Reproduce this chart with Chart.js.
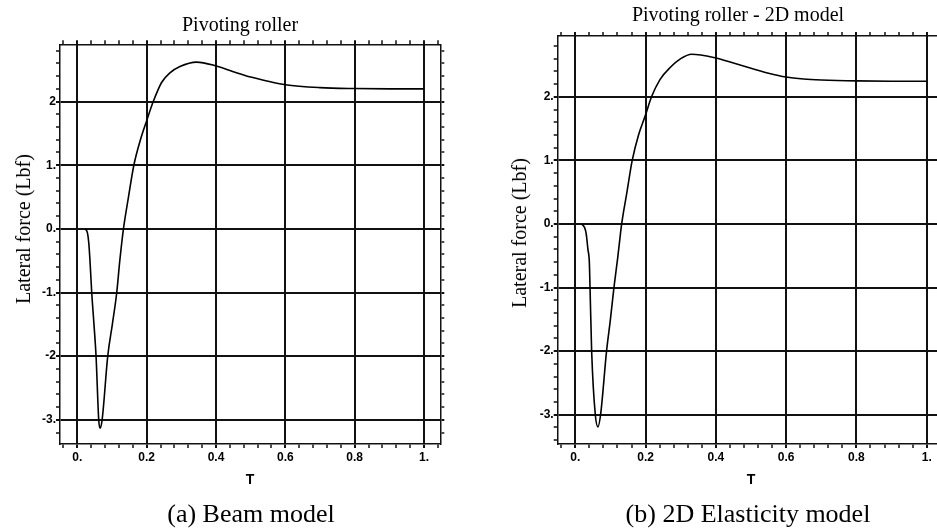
<!DOCTYPE html>
<html lang="en">
<head>
  <meta charset="UTF-8" />
  <title>Pivoting roller - lateral force</title>
  <script src="https://cdn.jsdelivr.net/npm/chart.js"></script>
  <style>
    html, body { margin: 0; padding: 0; background: #fff; }
    body { width: 937px; height: 529px; overflow: hidden; position: relative; }
    canvas { position: absolute; top: 0; }
    .ytitle, .caption { position: absolute; font-family: "Liberation Serif", "Times New Roman", serif; color: #000; white-space: nowrap; }
    .ytitle { font-size: 20px; line-height: 1; transform: translate(-50%, -50%) rotate(-90deg); }
    .caption { font-size: 26px; line-height: 26px; transform: translateX(-50%); top: 501px; }
  </style>
</head>
<body>
  <canvas id="beamChart" width="480" height="500" style="left:0px"></canvas>
  <canvas id="elasticChart" width="476" height="500" style="left:500px"></canvas>

  <div class="ytitle" style="left:23px; top:229px">Lateral force (Lbf)</div>
  <div class="ytitle" style="left:519px; top:233px">Lateral force (Lbf)</div>
  <div class="caption" style="left:251px">(a) Beam model</div>
  <div class="caption" style="left:748px">(b) 2D Elasticity model</div>

  <script>
    // values
    const tBeam = [0.022, 0.029, 0.033, 0.0365, 0.0415, 0.048, 0.054, 0.0617, 0.0655, 0.0715, 0.0877, 0.101, 0.1137, 0.1225, 0.133,
                   0.1475, 0.163, 0.182, 0.200, 0.219, 0.243, 0.267, 0.296, 0.344, 0.40, 0.45, 0.50, 0.55, 0.60, 0.70, 0.80, 0.90, 1.00];
    const forceBeam = [0, -0.06, -0.22, -0.5, -1.0, -1.5, -2.0, -3.0, -3.13, -3.0, -2.0, -1.5, -1.0, -0.5, 0.0,
                       0.5, 1.0, 1.4, 1.7, 2.0, 2.3, 2.45, 2.55, 2.62, 2.56, 2.47, 2.385, 2.32, 2.265, 2.22, 2.205, 2.20, 2.20];

    const tElastic = [0.018, 0.026, 0.031, 0.036, 0.040, 0.042, 0.0466, 0.057, 0.0646, 0.072, 0.089, 0.100, 0.110, 0.121, 0.132,
                      0.147, 0.162, 0.180, 0.199, 0.217, 0.241, 0.270, 0.300, 0.331, 0.40, 0.45, 0.50, 0.55, 0.60, 0.65, 0.70, 0.80, 0.90, 1.00];
    const forceElastic = [0, -0.05, -0.15, -0.4, -0.6, -1.0, -2.0, -3.0, -3.19, -3.0, -2.0, -1.5, -1.0, -0.52, 0.0,
                          0.5, 1.0, 1.4, 1.7, 2.0, 2.27, 2.46, 2.6, 2.67, 2.61, 2.53, 2.45, 2.37, 2.31, 2.28, 2.265, 2.25, 2.245, 2.245];

    const xTickValues = [0, 0.2, 0.4, 0.6, 0.8, 1];
    const xTickLabels = ['0.', '0.2', '0.4', '0.6', '0.8', '1.'];
    const yTickValues = [-3, -2, -1, 0, 1, 2];
    const yTickLabelsBeam = ['-3.', '-2', '-1.', '0.', '1.', '2'];
    const yTickLabelsElastic = ['-3.', '-2.', '-1.', '0.', '1.', '2.'];

    const tickFont = { family: "'Liberation Sans', Arial, sans-serif", size: 12, weight: 'bold' };
    const ink = '#111';

    // minor tick positions (every 0.04 on T, every 0.2 on force)
    function stepTicks(min, max, step) {
      const out = [];
      for (let i = Math.ceil(min / step - 1e-9); i * step <= max + 1e-9; i++) {
        out.push({ value: Math.round(i * step * 1000) / 1000 });
      }
      return out;
    }
    const isMajor = (v, majors) => majors.some(m => Math.abs(m - v) < 1e-6);
    const labelFor = (v, majors, labels) => {
      const i = majors.findIndex(m => Math.abs(m - v) < 1e-6);
      return i >= 0 ? labels[i] : '';
    };

    function axis(opts) {
      const { position, min, max, step, majors, labels, size, title, onArea } = opts;
      return {
        type: 'linear',
        position: position,
        min: min,
        max: max,
        afterBuildTicks: s => { s.ticks = stepTicks(min, max, step); },
        afterFit: s => {
          if (position === 'left' || position === 'right') s.width = size; else s.height = size;
        },
        border: { display: true, color: ink, width: 1.5 },
        grid: {
          drawOnChartArea: onArea,
          color: c => isMajor(c.tick.value, majors) ? ink : 'rgba(0,0,0,0)',
          lineWidth: 2,
          tickColor: ink,
          tickWidth: c => isMajor(c.tick.value, majors) ? 2 : 1.5,
          tickLength: 4
        },
        ticks: {
          display: !!labels,
          autoSkip: false,
          maxRotation: 0,
          font: tickFont,
          color: '#000',
          padding: position === 'bottom' ? 2 : 0,
          callback: v => labels ? labelFor(v, majors, labels) : ''
        },
        title: title || { display: false }
      };
    }

    function makeChart(id, cfg) {
      const points = cfg.t.map((t, i) => ({ x: t, y: cfg.f[i] }));
      return new Chart(document.getElementById(id), {
        type: 'line',
        data: {
          datasets: [{
            data: points,
            borderColor: '#000',
            borderWidth: 1.6,
            pointRadius: 0,
            fill: false,
            cubicInterpolationMode: 'monotone'
          }]
        },
        options: {
          responsive: false,
          animation: false,
          layout: { padding: 0 },
          plugins: {
            legend: { display: false },
            tooltip: { enabled: false },
            title: {
              display: true,
              text: cfg.title,
              color: '#000',
              font: { family: "'Liberation Serif', 'Times New Roman', serif", size: 20, weight: 'normal' },
              padding: cfg.titlePad
            }
          },
          scales: {
            x: axis({ position: 'bottom', min: cfg.xMin, max: cfg.xMax, step: 0.04, majors: xTickValues, labels: xTickLabels,
                      size: 56, onArea: true,
                      title: { display: true, text: 'T', color: '#000',
                               font: { family: "'Liberation Sans', Arial, sans-serif", size: 14, weight: 'bold' },
                               padding: { top: 0, bottom: 11.6 } } }),
            x2: axis({ position: 'top', min: cfg.xMin, max: cfg.xMax, step: 0.04, majors: xTickValues, size: 0, onArea: false }),
            y: axis({ position: 'left', min: cfg.yMin, max: cfg.yMax, step: 0.2, majors: yTickValues, labels: cfg.yLabels,
                      size: cfg.leftW, onArea: true }),
            y2: axis({ position: 'right', min: cfg.yMin, max: cfg.yMax, step: 0.2, majors: yTickValues, size: cfg.rightW, onArea: false })
          }
        }
      });
    }

    makeChart('beamChart', {
      t: tBeam, f: forceBeam, title: 'Pivoting roller',
      titlePad: { top: 14, bottom: 6.3 },
      xMin: -0.05, xMax: 1.047, yMin: -3.38, yMax: 2.90,
      yLabels: yTickLabelsBeam, leftW: 60, rightW: 39.7
    });

    makeChart('elasticChart', {
      t: tElastic, f: forceElastic, title: 'Pivoting roller - 2D model',
      titlePad: { top: 4, bottom: 8 },
      xMin: -0.05, xMax: 1.05, yMin: -3.46, yMax: 2.956,
      yLabels: yTickLabelsElastic, leftW: 57.7, rightW: 31.7
    });
  </script>
</body>
</html>
